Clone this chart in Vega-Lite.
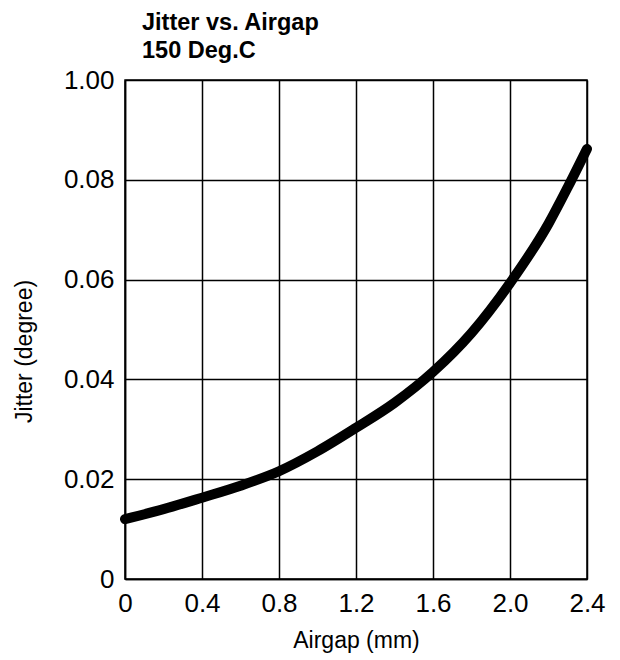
{
  "$schema": "https://vega.github.io/schema/vega-lite/v6.json",
  "autosize": "none",
  "padding": {"left": 125, "top": 80, "right": 32, "bottom": 81},
  "width": 462,
  "height": 499,
  "background": "white",
  "title": {
    "text": ["Jitter vs. Airgap", "150 Deg.C"],
    "anchor": "start",
    "frame": "group",
    "font": "Liberation Sans",
    "fontSize": 23.5,
    "fontWeight": "bold",
    "color": "black",
    "lineHeight": 28,
    "offset": 5,
    "dx": 17
  },
  "config": {
    "view": {"stroke": "black", "strokeWidth": 1.5},
    "font": "Liberation Sans"
  },
  "data": {
    "values": [
      {"airgap": 0.0, "jitter": 0.0120},
      {"airgap": 0.2, "jitter": 0.0140},
      {"airgap": 0.4, "jitter": 0.0163},
      {"airgap": 0.6, "jitter": 0.0187},
      {"airgap": 0.8, "jitter": 0.0216},
      {"airgap": 1.0, "jitter": 0.0256},
      {"airgap": 1.2, "jitter": 0.0303},
      {"airgap": 1.4, "jitter": 0.0353},
      {"airgap": 1.6, "jitter": 0.0415},
      {"airgap": 1.8, "jitter": 0.0493},
      {"airgap": 2.0, "jitter": 0.0593},
      {"airgap": 2.2, "jitter": 0.0712},
      {"airgap": 2.3, "jitter": 0.0785},
      {"airgap": 2.4, "jitter": 0.0862}
    ]
  },
  "mark": {"type": "line", "color": "black", "strokeWidth": 10, "strokeCap": "round", "interpolate": "monotone", "clip": false},
  "encoding": {
    "x": {
      "field": "airgap",
      "type": "quantitative",
      "scale": {"domain": [0, 2.4], "nice": false, "zero": false},
      "axis": {
        "title": "Airgap (mm)",
        "values": [0, 0.4, 0.8, 1.2, 1.6, 2.0, 2.4],
        "labelExpr": "datum.value == 0 ? '0' : format(datum.value, '.1f')",
        "grid": true,
        "gridColor": "black",
        "gridWidth": 1.5,
        "gridOpacity": 1,
        "domainColor": "black",
        "domainWidth": 1.5,
        "ticks": false,
        "labelFontSize": 26,
        "labelColor": "black",
        "labelPadding": 11,
        "labelFlush": false,
        "titleFontSize": 23,
        "titleFontWeight": "normal",
        "titleColor": "black",
        "titlePadding": 13
      }
    },
    "y": {
      "field": "jitter",
      "type": "quantitative",
      "scale": {"domain": [0, 0.1], "nice": false, "zero": true},
      "axis": {
        "title": "Jitter (degree)",
        "values": [0, 0.02, 0.04, 0.06, 0.08, 0.1],
        "labelExpr": "datum.value == 0 ? '0' : datum.value > 0.099 ? '1.00' : format(datum.value, '.2f')",
        "grid": true,
        "gridColor": "black",
        "gridWidth": 1.5,
        "gridOpacity": 1,
        "domainColor": "black",
        "domainWidth": 1.5,
        "ticks": false,
        "labelFontSize": 26,
        "labelColor": "black",
        "labelPadding": 11,
        "labelFlush": false,
        "titleFontSize": 23,
        "titleFontWeight": "normal",
        "titleColor": "black",
        "titleAngle": 270,
        "titleAlign": "center",
        "titleBaseline": "middle",
        "titleX": -101,
        "titleY": 271
      }
    }
  }
}
